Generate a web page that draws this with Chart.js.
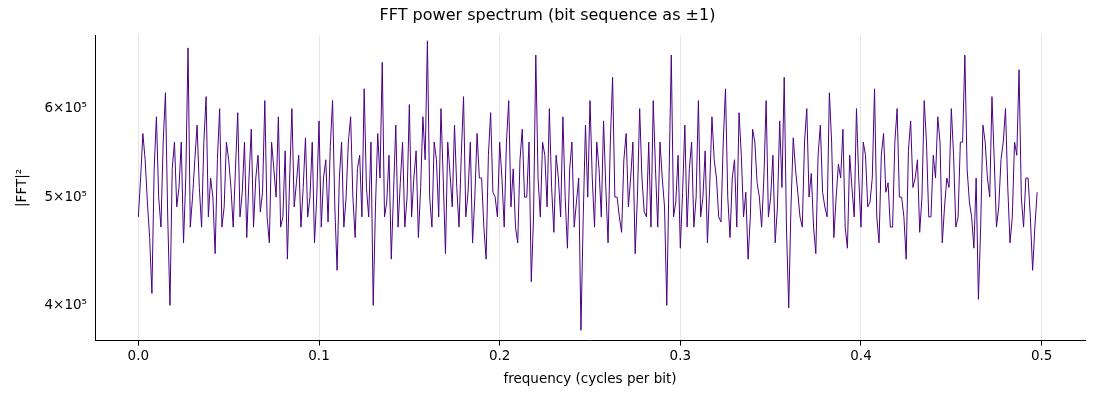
<!DOCTYPE html>
<html>
<head>
<meta charset="utf-8">
<script src="https://cdn.jsdelivr.net/npm/chart.js@4/dist/chart.umd.min.js"></script>
<style>
  body { margin: 0; background: #fff; }
  #wrap { width: 1100px; height: 400px; }
</style>
</head>
<body>
<div id="wrap"><canvas id="c"></canvas></div>
<script>
// frequency step (cycles per bit) between sampled points
const freqStep = 0.00125;
// |FFT|^2 values, in thousands (even samples)
const powerK = [
  480, 570, 495, 410, 590, 470, 620, 400, 560, 510, 455, 680, 500, 580, 470, 615, 520, 445, 600, 490,
  540, 470, 595, 505, 460, 575, 520, 485, 610, 455, 530, 590, 480, 440, 600, 515, 470, 565, 500, 455,
  585, 520, 475, 610, 430, 560, 500, 590, 460, 545, 625, 480, 400, 570, 660, 495, 440, 580, 515, 470,
  605, 520, 460, 590, 690, 470, 540, 600, 445, 525, 580, 470, 615, 505, 455, 570, 520, 440, 595, 500,
  560, 470, 610, 530, 455, 575, 500, 420, 670, 480, 545, 600, 465, 520, 590, 450, 560, 495, 380, 580,
  610, 470, 530, 585, 455, 640, 500, 465, 570, 520, 445, 600, 485, 560, 610, 470, 520, 400, 670, 495,
  450, 580, 530, 470, 610, 500, 455, 590, 520, 475, 625, 460, 540, 595, 480, 440, 575, 515, 470, 610,
  500, 455, 585, 640, 398, 565, 505, 470, 600, 525, 445, 580, 490, 620, 460, 535, 575, 450, 510, 600,
  470, 545, 495, 625, 455, 570, 515, 470, 600, 500, 440, 585, 520, 465, 610, 480, 545, 590, 455, 520,
  600, 470, 560, 670, 495, 450, 405, 580, 520, 615, 470, 540, 600, 455, 560, 650, 470, 520, 430, 505
];
// odd samples, read between the even ones
const powerKMid = [
  520, 540, 460, 530, 500, 560, 480, 530, 490, 560, 520, 470, 540, 510, 560, 480, 500, 540, 470, 560,
  510, 530, 480, 560, 520, 470, 545, 505, 480, 560, 500, 470, 550, 520, 490, 545, 510, 480, 560, 500,
  470, 540, 555, 490, 520, 470, 560, 500, 530, 480, 510, 560, 490, 520, 480, 545, 505, 470, 560, 500,
  480, 550, 510, 540, 500, 560, 480, 520, 560, 490, 510, 545, 480, 560, 500, 520, 470, 545, 505, 480,
  520, 560, 490, 470, 540, 500, 560, 480, 520, 560, 490, 510, 545, 480, 500, 530, 470, 520, 480, 500,
  520, 560, 480, 510, 560, 500, 480, 540, 490, 560, 500, 520, 480, 470, 530, 560, 490, 520, 480, 545,
  505, 470, 560, 500, 480, 550, 510, 540, 480, 560, 500, 520, 470, 545, 505, 480, 560, 500, 520, 480,
  545, 490, 510, 470, 490, 530, 480, 560, 500, 470, 545, 505, 480, 560, 500, 520, 470, 545, 480, 520,
  560, 490, 520, 480, 545, 505, 470, 560, 500, 480, 550, 510, 540, 500, 560, 480, 520, 560, 490, 510,
  545, 480, 560, 530, 480, 520, 470, 560, 500, 540, 490, 560, 510, 480, 545, 500, 520, 480, 470
];
const points = [];
powerK.forEach((v, i) => {
  points.push({ x: 2 * i * freqStep, y: v * 1000 });
  if (i < powerKMid.length) points.push({ x: (2 * i + 1) * freqStep, y: powerKMid[i] * 1000 });
});
const xTicks = [0, 0.1, 0.2, 0.3, 0.4, 0.5];
const yTicks = [400000, 500000, 600000];
const yTickLabels = ["4×10⁵", "5×10⁵", "6×10⁵"];

const font = { family: "'DejaVu Sans', sans-serif", size: 13.5 };

new Chart(document.getElementById("c"), {
  type: "line",
  data: {
    datasets: [{
      data: points,
      borderColor: "#4b0082",
      borderWidth: 1,
      pointRadius: 0,
      tension: 0
    }]
  },
  options: {
    responsive: true,
    maintainAspectRatio: false,
    animation: false,
    layout: { padding: { left: 10, right: 15, top: 2, bottom: 8 } },
    plugins: {
      legend: { display: false },
      tooltip: { enabled: false },
      title: {
        display: true,
        text: "FFT power spectrum (bit sequence as ±1)",
        color: "#000",
        font: { family: font.family, size: 16, weight: "normal" },
        padding: { top: 4, bottom: 10 }
      }
    },
    scales: {
      x: {
        type: "linear",
        min: -0.024,
        max: 0.524,
        afterBuildTicks: (s) => { s.ticks = xTicks.map(v => ({ value: v })); },
        ticks: { color: "#000", font, callback: (v) => v.toFixed(1), maxRotation: 0 },
        grid: { color: "#e6e6e6", drawTicks: true, tickColor: "#000", tickLength: 5 },
        border: { color: "#000" },
        title: { display: true, text: "frequency (cycles per bit)", color: "#000", font }
      },
      y: {
        type: "logarithmic",
        min: 372000,
        max: 698000,
        afterBuildTicks: (s) => { s.ticks = yTicks.map(v => ({ value: v })); },
        afterFit: (s) => { s.width = 85; },
        ticks: { color: "#000", font, callback: (v) => yTickLabels[yTicks.indexOf(v)] },
        grid: { display: false, drawTicks: true, tickColor: "#000", tickLength: 5 },
        border: { color: "#000" },
        title: { display: true, text: "|FFT|²", color: "#000", font }
      }
    }
  }
});
</script>
</body>
</html>
